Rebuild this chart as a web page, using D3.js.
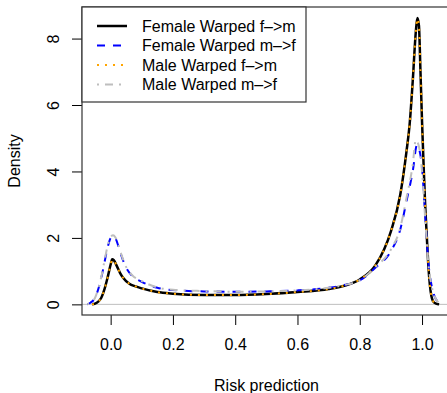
<!DOCTYPE html>
<html lang="en">
<head>
<meta charset="UTF-8">
<title>Risk prediction density</title>
<script src="https://d3js.org/d3.v7.min.js"></script>
<style>
  body { margin: 0; background: #fff; }
  svg text { font-family: "Liberation Sans", Arial, sans-serif; fill: #000; }
  .curve { fill: none; }
</style>
</head>
<body>
<div id="chart"></div>
<script>
// density estimates
var fFmX = [-0.06, -0.05, -0.04, -0.03, -0.02, -0.01, 0, 0.005, 0.01, 0.02, 0.03, 0.04, 0.06, 0.08, 0.1, 0.15, 0.2, 0.3, 0.4, 0.5, 0.6, 0.7, 0.75, 0.8, 0.85, 0.9, 0.93, 0.95, 0.96, 0.97, 0.98, 0.985, 0.99, 0.995, 1.0, 1.005, 1.01, 1.015, 1.02, 1.025, 1.03, 1.035, 1.045, 1.055];
var fFmY = [0, 0.02, 0.08, 0.2, 0.45, 0.8, 1.2, 1.36, 1.33, 1.15, 0.95, 0.8, 0.62, 0.54, 0.48, 0.37, 0.32, 0.28, 0.28, 0.31, 0.37, 0.46, 0.56, 0.75, 1.17, 2.2, 3.3, 4.6, 5.4, 6.7, 8.2, 8.62, 8.4, 7.0, 5.5, 4.2, 3.0, 2.1, 1.2, 0.6, 0.25, 0.1, 0.02, 0];

var fMfX = [-0.075, -0.065, -0.05, -0.04, -0.03, -0.02, -0.01, 0, 0.008, 0.015, 0.025, 0.035, 0.05, 0.07, 0.1, 0.15, 0.2, 0.3, 0.4, 0.5, 0.6, 0.7, 0.75, 0.8, 0.85, 0.9, 0.93, 0.95, 0.97, 0.984, 0.99, 1.0, 1.01, 1.02, 1.03, 1.04, 1.05, 1.06];
var fMfY = [0, 0.05, 0.2, 0.45, 0.8, 1.25, 1.7, 2.0, 2.06, 2.0, 1.75, 1.45, 1.1, 0.85, 0.68, 0.5, 0.43, 0.39, 0.38, 0.39, 0.42, 0.5, 0.58, 0.72, 1.1, 1.6, 2.25, 3.1, 4.0, 4.8, 4.7, 4.1, 2.7, 1.3, 0.6, 0.25, 0.08, 0];

var mFmX = [-0.06, -0.05, -0.04, -0.03, -0.02, -0.01, 0, 0.005, 0.01, 0.02, 0.03, 0.04, 0.06, 0.08, 0.1, 0.15, 0.2, 0.3, 0.4, 0.5, 0.6, 0.7, 0.75, 0.8, 0.85, 0.9, 0.93, 0.95, 0.96, 0.97, 0.98, 0.985, 0.99, 0.995, 1.0, 1.005, 1.01, 1.015, 1.02, 1.025, 1.03, 1.035, 1.045, 1.055];
var mFmY = [0, 0.02, 0.08, 0.2, 0.45, 0.8, 1.2, 1.35, 1.32, 1.15, 0.95, 0.8, 0.62, 0.54, 0.48, 0.37, 0.32, 0.28, 0.28, 0.31, 0.37, 0.46, 0.56, 0.75, 1.17, 2.2, 3.3, 4.6, 5.4, 6.7, 8.2, 8.6, 8.4, 7.0, 5.5, 4.2, 3.0, 2.1, 1.2, 0.6, 0.25, 0.1, 0.02, 0];

var mMfX = [-0.075, -0.065, -0.05, -0.04, -0.03, -0.02, -0.01, 0, 0.008, 0.015, 0.025, 0.035, 0.05, 0.07, 0.1, 0.15, 0.2, 0.3, 0.4, 0.5, 0.6, 0.7, 0.75, 0.8, 0.85, 0.9, 0.93, 0.95, 0.97, 0.98, 0.99, 1.0, 1.01, 1.02, 1.03, 1.04, 1.05, 1.06];
var mMfY = [0, 0.05, 0.2, 0.47, 0.83, 1.3, 1.75, 2.03, 2.08, 2.02, 1.78, 1.48, 1.12, 0.87, 0.7, 0.51, 0.44, 0.4, 0.38, 0.39, 0.42, 0.5, 0.58, 0.73, 1.12, 1.65, 2.3, 3.2, 4.2, 4.95, 4.75, 4.0, 2.6, 1.25, 0.6, 0.25, 0.08, 0];

var seriesNames = ["Female Warped f\u2013>m", "Female Warped m\u2013>f", "Male Warped f\u2013>m", "Male Warped m\u2013>f"];
var seriesColors = ["#000000", "#0000ff", "#ffa500", "#bebebe"];
var seriesDash = [null, "8,8", "2,6", "2,6,8,6"];
var xTicks = [0, 0.2, 0.4, 0.6, 0.8, 1.0];
var yTicks = [0, 2, 4, 6, 8];

var series = [[fFmX, fFmY], [fMfX, fMfY], [mFmX, mFmY], [mMfX, mMfY]].map(function (p, i) {
    return {
        name: seriesNames[i], color: seriesColors[i], dash: seriesDash[i],
        values: p[0].map(function (x, j) { return { x: x, y: p[1][j] }; })
    };
});

var width = 447, height = 393;
var box = { left: 82, right: 451, top: 7, bottom: 315 };
var fontSize = "16px";

var svg = d3.select("#chart").append("svg")
    .attr("width", width)
    .attr("height", height);

var x = d3.scaleLinear().domain([-0.092, 1.093]).range([box.left, box.right]);
var y = d3.scaleLinear().domain([-0.32, 8.95]).range([box.bottom, box.top]);

// zero reference line
svg.append("line")
    .attr("x1", box.left).attr("x2", box.right)
    .attr("y1", y(0)).attr("y2", y(0))
    .attr("stroke", "#bebebe").attr("stroke-width", 1);

var line = d3.line()
    .x(function (d) { return x(d.x); })
    .y(function (d) { return y(d.y); })
    .curve(d3.curveMonotoneX);

svg.selectAll(".curve")
    .data(series)
    .enter().append("path")
    .attr("class", "curve")
    .attr("d", function (d) { return line(d.values); })
    .attr("stroke", function (d) { return d.color; })
    .attr("stroke-width", function (d, i) { return i === 0 ? 2.5 : 2; })
    .attr("stroke-dasharray", function (d) { return d.dash; });

// x axis
var xAxis = svg.append("g")
    .attr("transform", "translate(0," + box.bottom + ")")
    .call(d3.axisBottom(x).tickValues(xTicks).tickSize(10).tickPadding(14)
        .tickFormat(d3.format(".1f")));
xAxis.select(".domain").remove();
xAxis.selectAll("text").style("font-size", fontSize).style("font-family", null);
xAxis.selectAll("line").attr("stroke", "#000");

// y axis
var yAxis = svg.append("g")
    .attr("transform", "translate(" + box.left + ",0)")
    .call(d3.axisLeft(y).tickValues(yTicks).tickSize(10).tickFormat(d3.format("d")));
yAxis.select(".domain").remove();
yAxis.selectAll("text")
    .style("font-size", fontSize).style("font-family", null)
    .attr("text-anchor", "middle")
    .attr("x", null).attr("dy", null)
    .attr("transform", "translate(-29,0) rotate(-90)")
    .attr("y", 0)
    .attr("dominant-baseline", "central");
yAxis.selectAll("line").attr("stroke", "#000");

// plot box
svg.append("rect")
    .attr("x", box.left).attr("y", box.top)
    .attr("width", box.right - box.left).attr("height", box.bottom - box.top)
    .attr("fill", "none").attr("stroke", "#333").attr("stroke-width", 1.2);

// axis titles
svg.append("text")
    .attr("x", (box.left + box.right) / 2).attr("y", 391)
    .attr("text-anchor", "middle")
    .style("font-size", fontSize)
    .text("Risk prediction");

svg.append("text")
    .attr("transform", "translate(20," + ((box.top + box.bottom) / 2) + ") rotate(-90)")
    .attr("text-anchor", "middle")
    .style("font-size", fontSize)
    .text("Density");

// legend
var legend = svg.append("g");
legend.append("rect")
    .attr("x", box.left).attr("y", box.top)
    .attr("width", 306 - box.left).attr("height", 102 - box.top)
    .attr("fill", "#fff").attr("stroke", "#333").attr("stroke-width", 1.2);

var rows = legend.selectAll(".row")
    .data(series)
    .enter().append("g")
    .attr("transform", function (d, i) { return "translate(0," + (26 + i * 19.5) + ")"; });

rows.append("line")
    .attr("x1", 97).attr("x2", 127)
    .attr("stroke", function (d) { return d.color; })
    .attr("stroke-width", function (d, i) { return i === 0 ? 2.5 : 2; })
    .attr("stroke-dasharray", function (d) { return d.dash; });

rows.append("text")
    .attr("x", 142)
    .attr("dy", "0.35em")
    .style("font-size", fontSize)
    .text(function (d) { return d.name; });
</script>
</body>
</html>
